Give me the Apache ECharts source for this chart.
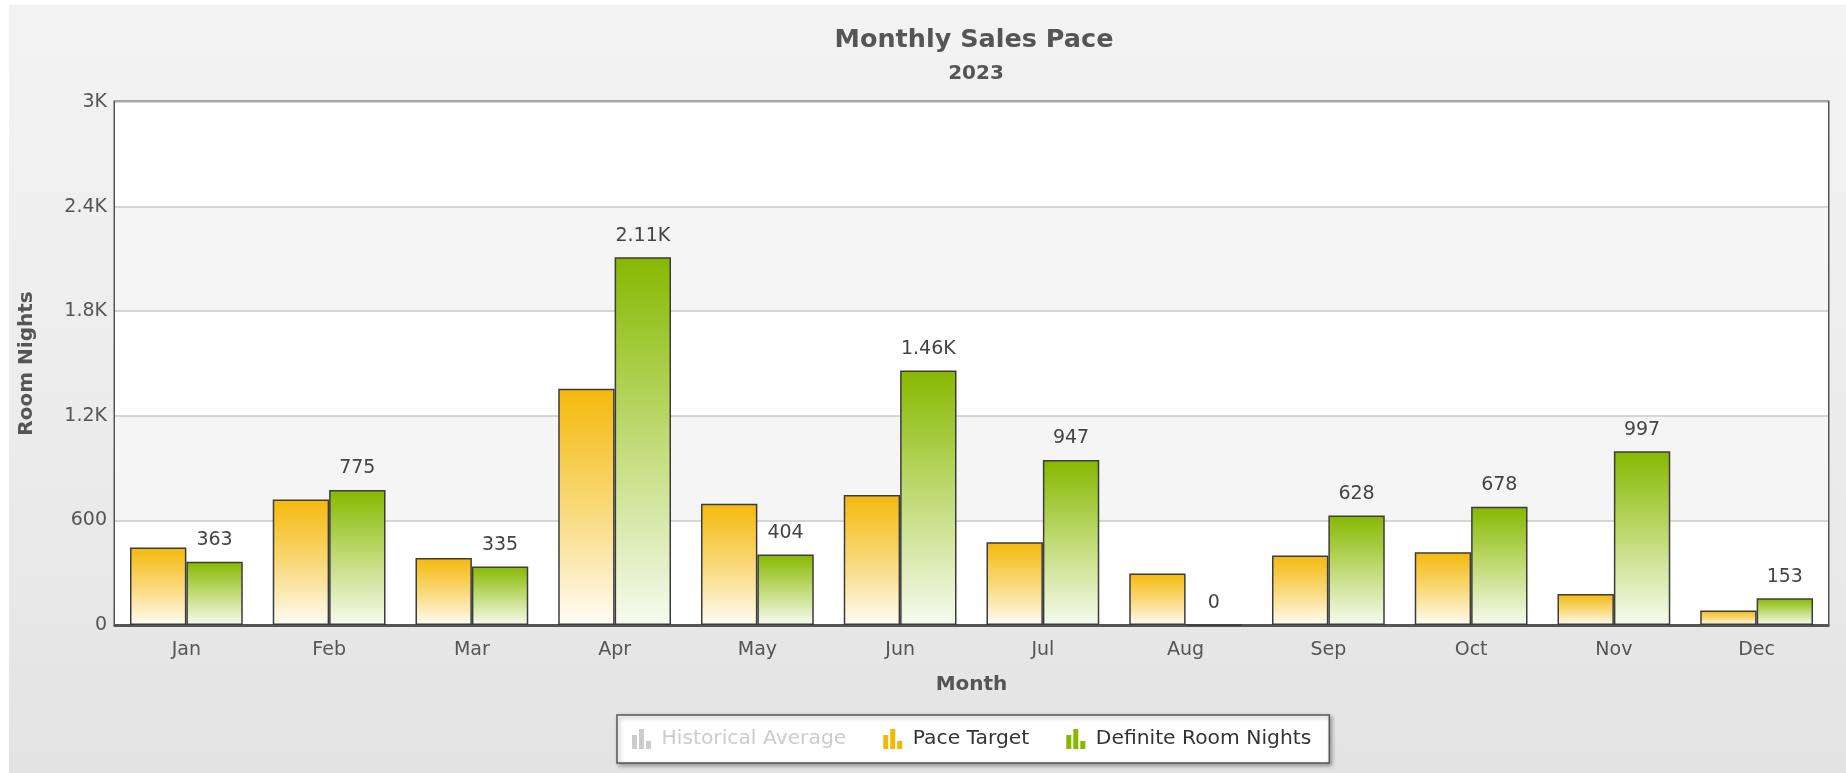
<!DOCTYPE html>
<html>
<head>
<meta charset="utf-8">
<script src="https://cdn.jsdelivr.net/npm/echarts@6/dist/echarts.min.js"></script>
<style>
  html, body { margin: 0; padding: 0; background: #ffffff; width: 1846px; height: 773px; overflow: hidden; }
  #chart { position: absolute; left: 9px; top: 5px; width: 1837px; height: 768px;
           background: linear-gradient(to bottom, #f3f3f3 0%, #ececec 55%, #e3e3e3 100%); }
</style>
</head>
<body>
<div id="chart"></div>
<script>
const months = ['Jan', 'Feb', 'Mar', 'Apr', 'May', 'Jun', 'Jul', 'Aug', 'Sep', 'Oct', 'Nov', 'Dec'];
const historicalAverage = [];
const paceTarget = [445, 720, 385, 1355, 695, 745, 475, 295, 398, 418, 178, 83];
const definiteRoomNights = [363, 775, 335, 2110, 404, 1460, 947, 0, 628, 678, 997, 153];
const yMin = 0, yMax = 3000, yInterval = 600;

const FONT = 'DejaVu Sans';
const fmtK = v => v >= 1000 ? (+(v / 1000).toFixed(2)) + 'K' : String(v);
const ICON = 'path://M0,6h5v14h-5zM7,0h5v20h-5zM14,12h5v8h-5z';

const chart = echarts.init(document.getElementById('chart'), null, { renderer: 'canvas' });
chart.setOption({
  backgroundColor: 'transparent',
  animation: false,
  textStyle: { fontFamily: FONT },
  title: [
    { text: 'Monthly Sales Pace', left: 960, top: 17, textAlign: 'center',
      textStyle: { fontFamily: FONT, fontSize: 25.5, fontWeight: 'bold', color: '#555555' } },
    { text: '2023', left: 962, top: 54, textAlign: 'center',
      textStyle: { fontFamily: FONT, fontSize: 20, fontWeight: 'bold', color: '#555555' } }
  ],
  legend: {
    data: [
      { name: 'Historical Average', icon: ICON, itemStyle: { borderWidth: 0 } },
      { name: 'Pace Target', icon: ICON, itemStyle: { color: '#f5b800', borderWidth: 0 } },
      { name: 'Definite Room Nights', icon: ICON, itemStyle: { color: '#86b800', borderWidth: 0 } }
    ],
    selected: { 'Historical Average': false },
    left: 608, top: 710,
    itemWidth: 30, itemHeight: 20, itemGap: 37,
    padding: [14, 18, 14, 15],
    backgroundColor: '#ffffff',
    borderColor: '#555555', borderWidth: 1.5, borderRadius: 0,
    shadowColor: 'rgba(0,0,0,0.35)', shadowBlur: 4, shadowOffsetX: 2, shadowOffsetY: 2,
    inactiveColor: '#cccccc',
    textStyle: { fontFamily: FONT, fontSize: 20.3, color: '#333333' }
  },
  grid: {
    left: 105, top: 97, right: 18, bottom: 148,
    show: true, backgroundColor: '#ffffff', borderColor: '#555555', borderWidth: 3
  },
  xAxis: {
    type: 'category',
    data: months,
    name: 'Month', nameLocation: 'middle', nameGap: 50,
    nameTextStyle: { fontFamily: FONT, fontSize: 20, fontWeight: 'bold', color: '#555555' },
    axisLine: { show: true, lineStyle: { color: '#555555', width: 3 } },
    axisTick: { show: false },
    axisLabel: { margin: 16, fontFamily: FONT, fontSize: 19, color: '#555555' }
  },
  yAxis: {
    type: 'value',
    min: yMin, max: yMax, interval: yInterval,
    name: 'Room Nights', nameLocation: 'middle', nameGap: 78, nameRotate: 90,
    nameTextStyle: { fontFamily: FONT, fontSize: 20, fontWeight: 'bold', color: '#555555' },
    axisLine: { show: false },
    axisTick: { show: false },
    axisLabel: { margin: 8, fontFamily: FONT, fontSize: 19, color: '#555555', formatter: fmtK },
    splitLine: { show: true, lineStyle: { color: '#c8c8c8', width: 1.5 } },
    splitArea: { show: true, areaStyle: { color: ['#ffffff', '#f5f5f5'] } }
  },
  series: [
    {
      name: 'Historical Average', type: 'bar', data: historicalAverage,
      itemStyle: { color: '#cccccc' }
    },
    {
      name: 'Pace Target', type: 'bar', data: paceTarget,
      barGap: '0%', barCategoryGap: '21%',
      itemStyle: {
        color: new echarts.graphic.LinearGradient(0, 0, 0, 1, [
          { offset: 0, color: '#f5b90c' },
          { offset: 0.5, color: '#f9d877' },
          { offset: 1, color: '#fffcf4' }
        ]),
        borderColor: '#3c3c3c', borderWidth: 1.5
      }
    },
    {
      name: 'Definite Room Nights', type: 'bar', data: definiteRoomNights,
      barGap: '0%', barCategoryGap: '21%',
      itemStyle: {
        color: new echarts.graphic.LinearGradient(0, 0, 0, 1, [
          { offset: 0, color: '#87b800' },
          { offset: 0.5, color: '#c0db76' },
          { offset: 1, color: '#f7fbf0' }
        ]),
        borderColor: '#3c3c3c', borderWidth: 1.5
      },
      label: {
        show: true, position: 'top', distance: 12,
        fontFamily: FONT, fontSize: 19, color: '#444444',
        formatter: p => fmtK(p.value)
      }
    }
  ]
});
</script>
</body>
</html>
